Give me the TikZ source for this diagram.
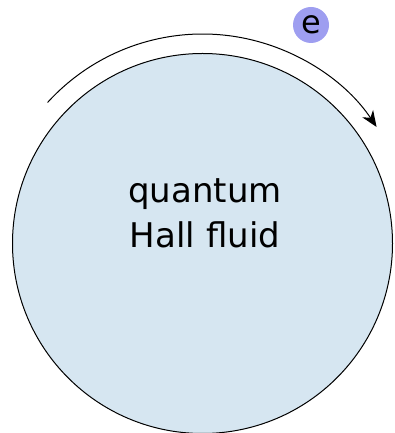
\documentclass[tikz,border=0pt]{standalone}
\usepackage{fontspec}
\setmainfont{DejaVu Sans}
\usetikzlibrary{arrows.meta,positioning,calc}
\definecolor{fluidblue}{RGB}{214,230,241}
\definecolor{electron}{RGB}{158,158,240}

\begin{document}
\begin{tikzpicture}[
    x=1pt,y=1pt,
    fluid/.style={draw=black, line width=1pt, fill=fluidblue},
    edgeflow/.style={-{Stealth[length=16pt,width=13pt,inset=5pt]}, line width=1pt},
    charge/.style={circle, fill=electron, minimum size=36pt, inner sep=0pt, font=\fontsize{32}{36}\selectfont},
    label/.style={align=center, inner sep=0pt, font=\fontsize{34}{45}\selectfont}
  ]
    % Bounding box
    \useasboundingbox (0,0) rectangle (395,433);

    % Hall-Tropfen
    \coordinate (c) at (202.5,189.5);
    \draw[fluid] (c) circle (190);
    \node[label] (qhf) at (205,219.5) {quantum\\Hall fluid};

    % Randstrom (Pfeil oben)
    \draw[edgeflow] ($(c)+(137.7:209.5)$) arc (137.7:33.8:209.5);

    % Elektron
    \node[charge] (el) at (311,408) {e};
  \end{tikzpicture}
\end{document}
